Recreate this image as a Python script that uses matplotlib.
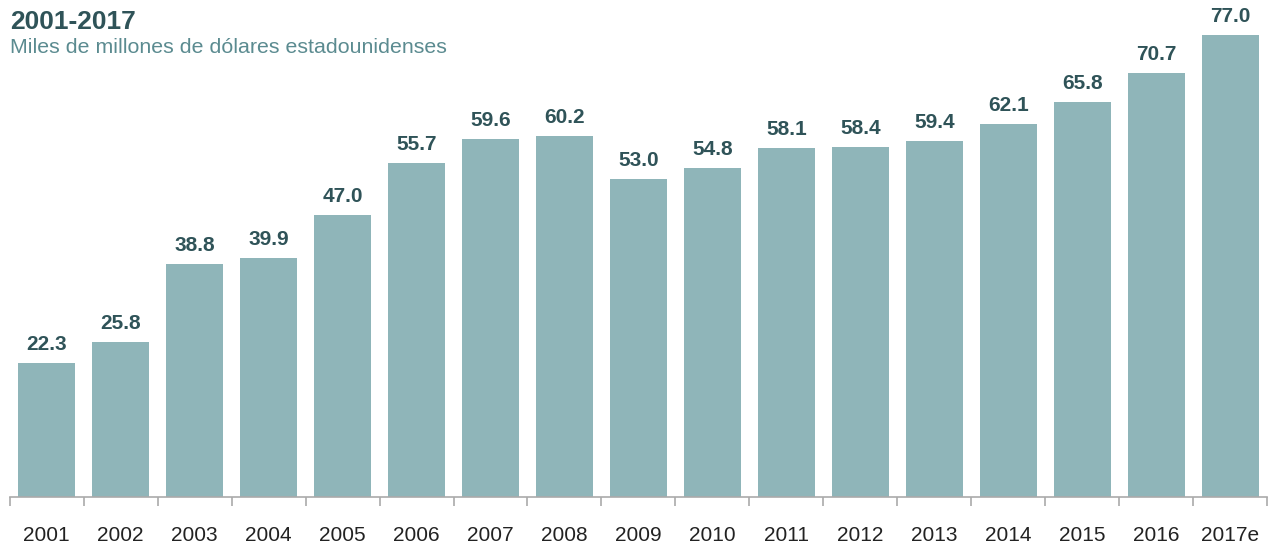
import numpy as np
import matplotlib.pyplot as plt

plt.rcParams['font.family'] = ['Liberation Sans', 'DejaVu Sans']

years = ["2001", "2002", "2003", "2004", "2005", "2006", "2007", "2008", "2009",
         "2010", "2011", "2012", "2013", "2014", "2015", "2016", "2017e"]
values = [22.3, 25.8, 38.8, 39.9, 47.0, 55.7, 59.6, 60.2, 53.0,
          54.8, 58.1, 58.4, 59.4, 62.1, 65.8, 70.7, 77.0]

bar_color = "#8fb5b9"
label_color = "#2f5358"
sub_color = "#5b8b90"

fig = plt.figure(figsize=(12.71, 5.45), dpi=100)
ax = fig.add_axes([0.0075, 0.0881, 0.9897, 0.8805])

x = np.arange(len(years))
ax.bar(x, values, width=0.76, color=bar_color)
for xi, v in zip(x, values):
    ax.annotate(f"{v:.1f}", (xi, v), xytext=(0, 6.5), textcoords="offset points",
                ha="center", va="bottom", fontsize=15, fontweight="bold",
                color=label_color)

ax.set_xlim(-0.5, len(years) - 0.5)
ax.set_ylim(0, 80)
ax.set_yticks([])
for s in ["top", "right", "left"]:
    ax.spines[s].set_visible(False)
ax.spines["bottom"].set_color("#aaaaaa")
ax.spines["bottom"].set_linewidth(1.2)

ax.set_xticks(x)
ax.set_xticklabels(years)
ax.set_xticks(np.arange(-0.5, len(years), 1.0), minor=True)
ax.tick_params(axis="x", which="major", length=0, pad=21, labelsize=15, labelcolor="#222222")
ax.tick_params(axis="x", which="minor", length=6.5, width=1.2, color="#aaaaaa")

fig.text(0.008, 0.947, "2001-2017", fontsize=19, fontweight="bold",
         color=label_color, ha="left", va="baseline")
fig.text(0.008, 0.903, "Miles de millones de dólares estadounidenses",
         fontsize=15.4, color=sub_color, ha="left", va="baseline")

fig.savefig("out.png", dpi=100)
